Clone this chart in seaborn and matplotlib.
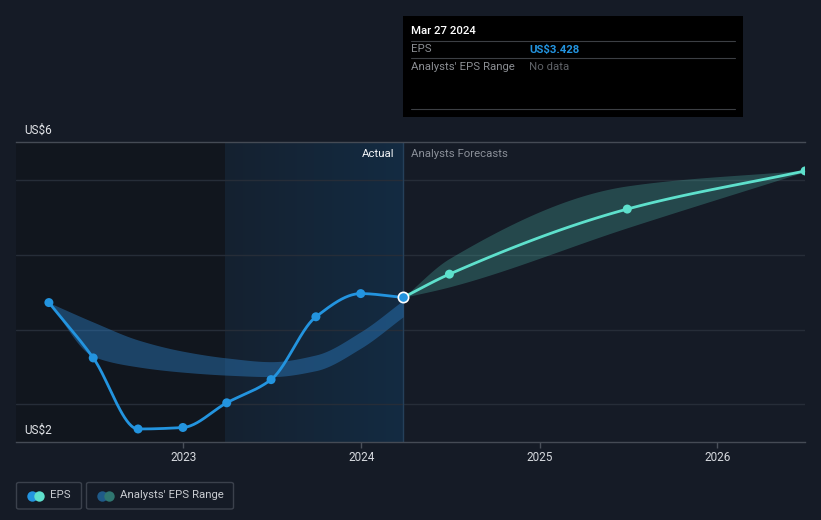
import matplotlib
matplotlib.use("Agg")
import matplotlib.pyplot as plt
import matplotlib.dates as mdates
from matplotlib.colors import LinearSegmentedColormap
from matplotlib.patches import FancyBboxPatch, Rectangle
from matplotlib.lines import Line2D
import seaborn as sns
import numpy as np
import pandas as pd
from datetime import datetime

# ---------------- data ----------------
past_dates = ["2022-03-31", "2022-06-30", "2022-09-30", "2022-12-31", "2023-03-31",
              "2023-06-30", "2023-09-30", "2023-12-31", "2024-03-27"]
past_eps = [3.36, 2.62, 1.67, 1.69, 2.02, 2.33, 3.17, 3.48, 3.428]
past_range_hi = [3.36, 3.10, 2.86, 2.71, 2.62, 2.57, 2.66, 2.97, 3.39]
past_range_lo = [3.36, 2.64, 2.50, 2.43, 2.39, 2.37, 2.45, 2.75, 3.17]

fc_dates = ["2024-03-27", "2024-06-30", "2025-06-30", "2026-06-30"]
fc_eps = [3.428, 3.74, 4.61, 5.12]
fc_hi = [3.428, 3.95, 4.92, 5.13]
fc_lo = [3.428, 3.57, 4.36, 5.11]

year_ticks = ["2023-01-01", "2024-01-01", "2025-01-01", "2026-01-01"]
year_labels = ["2023", "2024", "2025", "2026"]

tooltip_date = "Mar 27 2024"
tooltip_eps = "US$3.428"
highlight_start = "2023-03-27"
today = "2024-03-27"

# ---------------- style ----------------
BG = "#151b26"
DARK = "#11161e"
BLUE = "#2394df"
TEAL = "#5ee0cc"
FS = 8.2

sns.set_theme(style="dark")
plt.rcParams["font.family"] = ["Roboto", "DejaVu Sans"]

W, H = 821, 520
fig = plt.figure(figsize=(W / 100, H / 100), dpi=100, facecolor=BG)


def fx(px):
    return px / W


def fy(py):
    return 1 - py / H


ax_left, ax_right, ax_top, ax_bot = 16, 805, 142.3, 442.3
ax = fig.add_axes([fx(ax_left), fy(ax_bot), fx(ax_right - ax_left), (ax_bot - ax_top) / H])
ax.set_facecolor(BG)


def dn(s):
    return mdates.date2num(datetime.strptime(s, "%Y-%m-%d"))


def mono(x, y, n=40):
    x = np.asarray(x, float)
    y = np.asarray(y, float)
    h = np.diff(x)
    d = np.diff(y) / h
    m = np.zeros_like(y)
    m[0] = d[0]
    m[-1] = d[-1]
    for i in range(1, len(y) - 1):
        if d[i - 1] * d[i] <= 0:
            m[i] = 0
        else:
            m[i] = 3 * (h[i - 1] + h[i]) / ((2 * h[i] + h[i - 1]) / d[i - 1] + (h[i] + 2 * h[i - 1]) / d[i])
    xs, ys = [], []
    for i in range(len(x) - 1):
        t = np.linspace(0, 1, n, endpoint=(i == len(x) - 2))
        h00 = 2 * t**3 - 3 * t**2 + 1
        h10 = t**3 - 2 * t**2 + t
        h01 = -2 * t**3 + 3 * t**2
        h11 = t**3 - t**2
        ys.append(h00 * y[i] + h10 * h[i] * m[i] + h01 * y[i + 1] + h11 * h[i] * m[i + 1])
        xs.append(x[i] + t * h[i])
    return np.concatenate(xs), np.concatenate(ys)


px_per_day = 178.0 / 365.25
x0 = dn("2023-01-01") - (183.4 - ax_left) / px_per_day
x1 = dn("2026-01-01") + (ax_right - 717.4) / px_per_day
y0 = 3 - (ax_bot - 329.5) / 74.8
y1 = 3 + (329.5 - ax_top) / 74.8

# background regions
hs, td = dn(highlight_start), dn(today)
ax.axvspan(x0, hs, color=DARK, zorder=0, lw=0)
grad = np.linspace(0, 1, 256).reshape(1, -1)
cmap = LinearSegmentedColormap.from_list("hl", ["#152130", "#132b42"])
ax.imshow(grad, extent=[hs, td, y0, y1], aspect="auto", cmap=cmap, zorder=0.5)

# gridlines
for v in [2, 3, 4, 5]:
    ax.axhline(v, color="#262d38", lw=1, zorder=1)

# today line
ax.axvline(td, color="#25405a", lw=1, zorder=1.5)

# past analyst range band
pdx = [dn(s) for s in past_dates]
bx, bhi = mono(pdx, past_range_hi)
_, blo = mono(pdx, past_range_lo)
ax.fill_between(bx, blo, bhi, color="#2b7bc0", alpha=0.45, lw=0, zorder=2)

# forecast band
fdx = [dn(s) for s in fc_dates]
fx_, fhi = mono(fdx, fc_hi)
_, flo = mono(fdx, fc_lo)
ax.fill_between(fx_, flo, fhi, color="#4bb3a6", alpha=0.3, lw=0, zorder=2)

# EPS lines
lx, ly = mono(pdx, past_eps)
sns.lineplot(x=lx, y=ly, ax=ax, color=BLUE, lw=2.0, sort=False, estimator=None, zorder=3)
sns.scatterplot(x=pdx[:-1], y=past_eps[:-1], ax=ax, color=BLUE, s=42, edgecolor="none", zorder=4)

flx, fly = mono(fdx, fc_eps)
sns.lineplot(x=flx, y=fly, ax=ax, color=TEAL, lw=2.0, sort=False, estimator=None, zorder=3)
sns.scatterplot(x=fdx[1:], y=fc_eps[1:], ax=ax, color=TEAL, s=42, edgecolor="none", zorder=4)

sns.scatterplot(x=[pdx[-1]], y=[past_eps[-1]], ax=ax, color=BLUE, s=55, edgecolor="white",
                linewidth=1.2, zorder=5)

ax.set_xlim(x0, x1)
ax.set_ylim(y0, y1)
ax.set_xticks([dn(s) for s in year_ticks])
ax.set_xticklabels(year_labels)
ax.set_yticks([])
ax.set_xlabel("")
ax.set_ylabel("")
ax.tick_params(axis="x", colors="#4a505a", length=4, width=1, pad=2,
               labelcolor="#d6d9de", labelsize=8.5, bottom=True)
for side in ["left", "right"]:
    ax.spines[side].set_visible(False)
for side in ["top", "bottom"]:
    ax.spines[side].set_visible(True)
    ax.spines[side].set_color("#454b55")
    ax.spines[side].set_linewidth(1)
ax.grid(False)

# axis value labels
fig.text(fx(24), fy(130), "US$6", color="#e2e4e8", fontsize=8.5, va="center", ha="left")
fig.text(fx(24), fy(430), "US$2", color="#e2e4e8", fontsize=8.5, va="center", ha="left")

# Actual / forecasts labels
fig.text(fx(394), fy(154), "Actual", color="#f0f2f5", fontsize=FS, va="center", ha="right")
fig.text(fx(411), fy(154), "Analysts Forecasts", color="#8a8f98", fontsize=FS, va="center", ha="left")

# tooltip
fig.add_artist(Rectangle((fx(403), fy(117)), fx(743 - 403), (117 - 16) / H,
                         transform=fig.transFigure, facecolor="black", edgecolor="none", zorder=10))
for yy in [41, 58, 109]:
    fig.add_artist(Line2D([fx(411), fx(735)], [fy(yy), fy(yy)], transform=fig.transFigure,
                          color="#3c3f44", lw=0.8, zorder=11))
fig.text(fx(411), fy(31), tooltip_date, color="white", fontsize=FS, va="center", ha="left",
         fontweight="medium", zorder=12)
fig.text(fx(411), fy(49.5), "EPS", color="#8b8e93", fontsize=FS, va="center", ha="left", zorder=12)
fig.text(fx(529), fy(49.5), tooltip_eps, color=BLUE, fontsize=FS, va="center", ha="left",
         fontweight="bold", zorder=12)
fig.text(fx(411), fy(66.5), "Analysts' EPS Range", color="#8b8e93", fontsize=FS, va="center",
         ha="left", zorder=12)
fig.text(fx(529), fy(66.5), "No data", color="#5f6267", fontsize=FS, va="center", ha="left", zorder=12)

# legend
def legend_box(xa, xb, ya, yb):
    fig.add_artist(FancyBboxPatch((fx(xa), fy(yb)), fx(xb - xa), (yb - ya) / H,
                                  boxstyle="round,pad=0,rounding_size=0.003",
                                  transform=fig.transFigure, facecolor="none",
                                  edgecolor="#3b414c", lw=1))


def dot(px, py, color):
    fig.add_artist(Line2D([fx(px)], [fy(py)], marker="o", markersize=7.5, color=color,
                          markeredgewidth=0, transform=fig.transFigure))


legend_box(16.5, 81.5, 482.5, 509)
dot(31.5, 495.5, BLUE)
dot(38.5, 495.5, TEAL)
fig.text(fx(50), fy(495.5), "EPS", color="#c8cbd0", fontsize=FS, va="center", ha="left")

legend_box(86.5, 233.5, 482.5, 509)
dot(101.5, 495.5, "#1f5a88")
dot(108.5, 495.5, "#2f7670")
fig.text(fx(120), fy(495.5), "Analysts' EPS Range", color="#c8cbd0", fontsize=FS, va="center", ha="left")

fig.savefig("out.png", dpi=100, facecolor=BG)
